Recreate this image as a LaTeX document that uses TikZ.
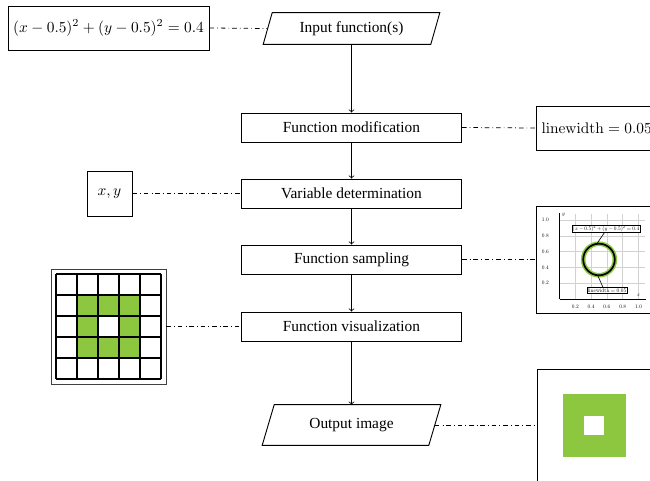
\documentclass[tikz,border=0pt]{standalone}
\usepackage[no-math]{fontspec}
\setmainfont{Liberation Serif}
\usetikzlibrary{calc}
\definecolor{lgreen}{RGB}{141,198,63}
\begin{document}
\begin{tikzpicture}[x=0.65pt,y=-0.65pt,
  proc/.style={draw,line width=0.6pt,minimum width=143pt,minimum height=18.85pt,inner sep=0pt},
  ghost/.style={inner sep=0pt},
  side/.style={draw,line width=0.6pt},
  para/.style={line width=0.6pt},
  link/.style={dash dot,line width=0.5pt},
  flow/.style={->,line width=0.5pt},
  tinylab/.style={draw,fill=white,line width=0.3pt,inner sep=0.6pt},
  tick/.style={inner sep=0pt}]
\clip (0,0) rectangle (650,481);
% main flow
\node[ghost,minimum width=108.55pt,minimum height=20.15pt] (in) at (351.5,28.5) {Input function(s)};
\draw[para] ($(in.south west)+(-4.5,0)$) -- ($(in.south east)+(-4.5,0)$) -- ($(in.north east)+(4.5,0)$) -- ($(in.north west)+(4.5,0)$) -- cycle;
\node[proc] (mod) at (351.5,127.5) {Function modification};
\node[proc] (var) at (351.5,193.5) {Variable determination};
\node[proc] (samp) at (351.5,259.5) {Function sampling};
\node[proc] (vis) at (351.5,326.5) {Function visualization};
\node[ghost,minimum width=107.9pt,minimum height=26pt] (out) at (351.5,425) {Output image};
\draw[para] ($(out.south west)+(-6,0)$) -- ($(out.south east)+(-6,0)$) -- ($(out.north east)+(6,0)$) -- ($(out.north west)+(6,0)$) -- cycle;
\draw[flow] (in.south) -- (mod.north);
\draw[flow] (mod) -- (var);
\draw[flow] (var) -- (samp);
\draw[flow] (samp) -- (vis);
\draw[flow] (vis.south) -- (out.north);
% side nodes
\node[side,minimum width=130.65pt,minimum height=28.6pt,inner sep=0pt] (eq) at (108.5,28) {$(x-0.5)^2+(y-0.5)^2=0.4$};
\node[side,minimum height=28.6pt,anchor=west] (lw) at (536,128) {$\mathrm{linewidth}=0.05$};
\node[side,minimum width=29.25pt,minimum height=29.25pt,inner sep=0pt] (xy) at (109.5,193.5) {$x,y$};
\node[side,minimum width=77.35pt,minimum height=69.55pt,inner sep=0pt] (plot) at (595.5,259.5) {};
\node[draw=black!75,line width=0.6pt,minimum width=74.75pt,minimum height=74.75pt,inner sep=0pt] (gridimg) at (108.5,326.5) {};
\node[side,minimum width=74.75pt,minimum height=72.8pt,inner sep=0pt] (outimg) at (594.5,425) {};
\draw[link] (eq.east) -- (in.west);
\draw[link] (mod.east) -- (lw.west);
\draw[link] (xy.east) -- (var.west);
\draw[link] (samp.east) -- (plot.west);
\draw[link] (gridimg.east) -- (vis.west);
\draw[link] (out.east) -- (outimg.west);
% grid image content
\foreach \i/\j in {1/1,2/1,3/1,1/2,3/2,1/3,2/3,3/3}
  \fill[lgreen] (56+21*\i,274+21*\j) rectangle (77+21*\i,295+21*\j);
\foreach \k in {0,...,5} {
  \draw[line width=0.7pt] (56+21*\k,274) -- (56+21*\k,379);
  \draw[line width=0.7pt] (56,274+21*\k) -- (161,274+21*\k);
}
% output image content
\fill[lgreen] (563,394) rectangle (626,457);
\fill[white] (584,416) rectangle (604,435);
% plot content
\begin{scope}[shift={(559.5,299)},x=51.35pt,y=51.35pt]
  \foreach \v in {0.2,0.4,0.6,0.8,1.0} {
    \draw[gray!35,line width=0.3pt] (\v,0) -- (\v,1.08);
    \draw[gray!35,line width=0.3pt] (0,\v) -- (1.08,\v);
    \node[tick] at (\v,-0.1) {\scalebox{0.35}{$\v$}};
    \node[tick] at (-0.18,\v) {\scalebox{0.35}{$\v$}};
  }
  \draw[line width=0.5pt] (0,0) -- (1.09,0);
  \draw[line width=0.5pt] (0,0) -- (0,1.09);
  \node[tick] at (1.0,0.05) {\scalebox{0.35}{$x$}};
  \node[tick] at (0.05,1.06) {\scalebox{0.35}{$y$}};
  \coordinate (cc) at (0.5,0.5);
  \draw[lgreen,line width=3pt] (cc) circle (0.2);
  \draw[black,line width=1.1pt] (cc) circle (0.2);
  \coordinate (ctop) at ($(cc)+(98:0.2)$);
  \coordinate (cbot) at ($(cc)+(265:0.2)$);
  \node[tinylab] (eqlab) at (0.589,0.892) {\scalebox{0.35}{$(x-0.5)^2+(y-0.5)^2=0.4$}};
  \node[tinylab] (lwlab) at (0.601,0.108) {\scalebox{0.35}{$\mathrm{linewidth}=0.05$}};
  \draw[line width=0.4pt] (ctop) -- ($(eqlab.south)+(-0.02,0)$);
  \draw[line width=0.4pt] (cbot) -- ($(lwlab.north)+(-0.05,0)$);
\end{scope}
\end{tikzpicture}
\end{document}
